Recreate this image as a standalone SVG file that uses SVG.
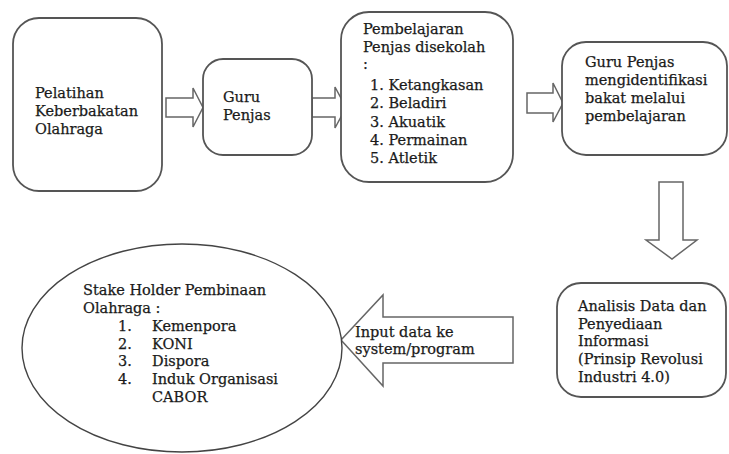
<svg xmlns="http://www.w3.org/2000/svg" width="729" height="454" viewBox="0 0 729 454">
<style>
.box{fill:#fff;stroke:#555;stroke-width:1.8}
.ell{fill:#fff;stroke:#444;stroke-width:1.4}
.arr{fill:#fff;stroke:#666;stroke-width:1.5;stroke-linejoin:miter}
text{font-family:"DejaVu Serif","Liberation Serif",serif;font-size:14.5px;fill:#1a1a1a;stroke:#1a1a1a;stroke-width:0.25}
</style>
<rect width="729" height="454" fill="#fff"/>
<g id="connectors">
<polygon class="arr" points="166,98 193,98 193,88 203,107.5 193,127 193,117 166,117"/>
<polygon class="arr" points="312,98 335,98 335,87 346,107.5 335,128 335,117 312,117"/>
<polygon class="arr" points="527,93 553,93 553,83 563,103 553,122 553,113 527,113"/>
<polygon class="arr" points="659,182 683,182 683,240 697,240 672,259 646,240 659,240"/>
<polygon class="arr" points="513,317 383,317 383,295 341,340 383,386 383,363 513,363"/>
</g>
<g id="node-pelatihan">
<rect class="box" x="13" y="18" width="149" height="173" rx="26"/>
<text x="35" y="98">Pelatihan</text>
<text x="35" y="116">Keberbakatan</text>
<text x="35" y="134">Olahraga</text>
</g>
<g id="node-guru">
<rect class="box" x="203" y="59" width="109" height="96" rx="20"/>
<text x="223" y="102">Guru</text>
<text x="223" y="120">Penjas</text>
</g>
<g id="node-pembelajaran">
<rect class="box" x="341" y="12" width="172" height="170" rx="28"/>
<text x="363" y="34">Pembelajaran</text>
<text x="363" y="52">Penjas disekolah</text>
<text x="363" y="69">:</text>
<text x="370" y="90">1. Ketangkasan</text>
<text x="370" y="108">2. Beladiri</text>
<text x="370" y="127">3. Akuatik</text>
<text x="370" y="145">4. Permainan</text>
<text x="370" y="163">5. Atletik</text>
</g>
<g id="node-identifikasi">
<rect class="box" x="562" y="42" width="165" height="113" rx="24"/>
<text x="585" y="67">Guru Penjas</text>
<text x="585" y="85">mengidentifikasi</text>
<text x="585" y="103">bakat melalui</text>
<text x="585" y="121">pembelajaran</text>
</g>
<g id="node-analisis">
<rect class="box" x="557" y="283" width="169" height="114" rx="24"/>
<text x="578" y="311">Analisis Data dan</text>
<text x="578" y="329">Penyediaan</text>
<text x="578" y="346">Informasi</text>
<text x="578" y="364">(Prinsip Revolusi</text>
<text x="578" y="382">Industri 4.0)</text>
</g>
<g id="node-input">
<text x="355" y="337">Input data ke</text>
<text x="355" y="354">system/program</text>
</g>
<g id="node-stakeholder">
<ellipse class="ell" cx="182" cy="348" rx="160" ry="104"/>
<text x="83" y="295">Stake Holder Pembinaan</text>
<text x="83" y="313">Olahraga :</text>
<text x="118" y="331">1.</text><text x="152" y="331">Kemenpora</text>
<text x="118" y="349">2.</text><text x="152" y="349">KONI</text>
<text x="118" y="366">3.</text><text x="152" y="366">Dispora</text>
<text x="118" y="384">4.</text><text x="152" y="384">Induk Organisasi</text>
<text x="152" y="402">CABOR</text>
</g>
</svg>
